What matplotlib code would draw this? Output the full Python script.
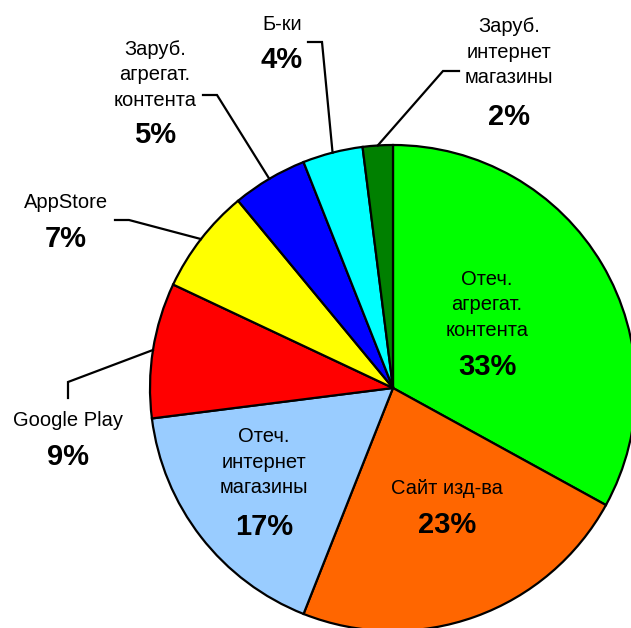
import numpy as np
import matplotlib
matplotlib.use('Agg')
import matplotlib.pyplot as plt

# данные (по часовой стрелке от 12 часов)
names = ['Отеч.\nагрегат.\nконтента', 'Сайт изд-ва', 'Отеч.\nинтернет\nмагазины',
         'Google Play', 'AppStore', 'Заруб.\nагрегат.\nконтента', 'Б-ки',
         'Заруб.\nинтернет\nмагазины']
shares = [33, 23, 17, 9, 7, 5, 4, 2]
colors = ['#00FF00', '#FF6600', '#99CCFF', '#FF0000', '#FFFF00', '#0000FF',
          '#00FFFF', '#008000']

W, H = 631, 628
CX, CY, R = 393, 388, 243


def px(x, y):
    # пиксели картинки -> координаты осей (радиус пирога = 1)
    return (x - CX) / R, (CY - y) / R


plt.rcParams['font.family'] = ['Liberation Sans', 'DejaVu Sans']
fig = plt.figure(figsize=(W / 100, H / 100), dpi=100)
ax = fig.add_axes([(CX - R) / W, (H - CY - R) / H, 2 * R / W, 2 * R / H])
wedges, _ = ax.pie(shares, colors=colors, startangle=90, counterclock=False,
                   radius=1, wedgeprops=dict(edgecolor='black', linewidth=1.6))
for w in wedges:
    w.set_clip_on(False)
ax.set_xlim(-1, 1)
ax.set_ylim(-1, 1)
ax.set_aspect('equal')
ax.axis('off')

# подписи внутри: (x, y центра названия, y процента)
inside = {0: (487, 305, 367), 1: (447, 488, 525), 2: (264, 462, 527)}
# подписи снаружи: (x, y названия, y процента, линия-выноска)
outside = {
    3: (68, 420, 457, [(68, 398), (68, 382)]),
    4: (66, 203, 239, [(115, 220), (129, 220)]),
    5: (155, 75, 135, [(203, 95), (217, 95)]),
    6: (282, 25, 60, [(308, 42), (322, 42)]),
    7: (509, 52, 117, [(459, 71), (443, 71)]),
}

for i, w in enumerate(wedges):
    pct = '%d%%' % shares[i]
    if i in inside:
        x, yn, yp = inside[i]
        tx, ty = px(x, yn)
        ax.text(tx, ty, names[i], ha='center', va='center', fontsize=14.5,
                linespacing=1.45)
        tx, ty = px(x, yp)
        ax.text(tx, ty, pct, ha='center', va='center', fontsize=21,
                fontweight='bold')
    else:
        x, yn, yp, leader = outside[i]
        tx, ty = px(x, yn)
        ax.text(tx, ty, names[i], ha='center', va='center', fontsize=14.5,
                linespacing=1.45)
        tx, ty = px(x, yp)
        ax.text(tx, ty, pct, ha='center', va='center', fontsize=21,
                fontweight='bold')
        mid = np.deg2rad((w.theta1 + w.theta2) / 2)
        pts = [px(*p) for p in leader] + [(np.cos(mid), np.sin(mid))]
        ax.plot([p[0] for p in pts], [p[1] for p in pts], color='black',
                linewidth=1.6, clip_on=False, solid_joinstyle='miter')

fig.savefig('out.png', dpi=100)
